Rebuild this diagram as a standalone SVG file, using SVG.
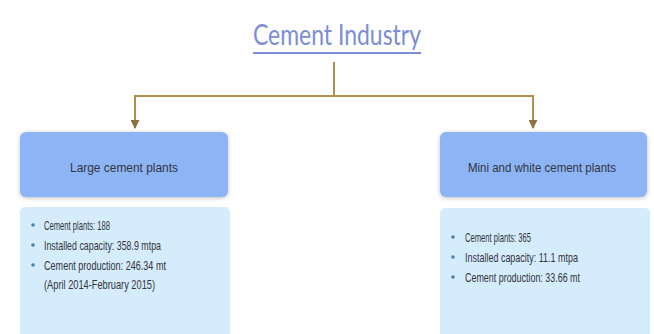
<svg xmlns="http://www.w3.org/2000/svg" width="654" height="334" viewBox="0 0 654 334">
  <defs>
    <style>
      .title { font-family: Lato, "Open Sans", "Liberation Sans", sans-serif; font-size: 29px; fill: #7a8dd5; }
      .head { fill: #8db4f5; }
      .body { fill: #d5ecfc; }
      .label { font-family: "Liberation Sans", Arial, sans-serif; font-size: 13.5px; fill: #33343c; }
      .item { font-family: "Liberation Sans", Arial, sans-serif; font-size: 13px; fill: #33343c; }
      .dot { fill: #4a7fb0; }
      .link { fill: none; stroke: #b38d4c; stroke-width: 2; }
    </style>
    <marker id="arrow" viewBox="0 0 10 10" refX="9" refY="5" markerWidth="4.5" markerHeight="4.5" orient="auto">
      <path d="M0,0 L10,5 L0,10 z" fill="#8f7140"/>
    </marker>
    <filter id="soft" x="-10%" y="-10%" width="120%" height="130%">
      <feGaussianBlur in="SourceAlpha" stdDeviation="2"/>
      <feOffset dy="1"/>
      <feComponentTransfer><feFuncA type="linear" slope="0.25"/></feComponentTransfer>
      <feMerge><feMergeNode/><feMergeNode in="SourceGraphic"/></feMerge>
    </filter>
  </defs>

  <rect width="654" height="334" fill="#ffffff"/>

  <!-- heading -->
  <g id="title">
    <text class="title" x="337" y="45" text-anchor="middle" textLength="168" lengthAdjust="spacingAndGlyphs">Cement Industry</text>
    <line x1="253" y1="53" x2="421" y2="53" stroke="#7a8dd5" stroke-width="2"/>
  </g>

  <!-- connectors -->
  <g id="connectors">
    <line class="link" x1="334" y1="62" x2="334" y2="96"/>
    <line class="link" x1="134" y1="96" x2="534" y2="96"/>
    <path class="link" d="M135,96 V128" marker-end="url(#arrow)"/>
    <path class="link" d="M533,96 V128" marker-end="url(#arrow)"/>
  </g>

  <!-- large plants -->
  <g id="large-head">
    <rect class="head" x="20" y="132" width="208" height="65" rx="6" filter="url(#soft)"/>
    <text class="label" x="124" y="172" text-anchor="middle" textLength="108" lengthAdjust="spacingAndGlyphs">Large cement plants</text>
  </g>
  <g id="large-body">
    <rect class="body" x="20" y="207" width="210" height="132" rx="5"/>
    <circle class="dot" cx="33" cy="225" r="1.8"/>
    <text class="item" x="44" y="230" textLength="66" lengthAdjust="spacingAndGlyphs">Cement plants: 188</text>
    <circle class="dot" cx="33" cy="245" r="1.8"/>
    <text class="item" x="44" y="250" textLength="117" lengthAdjust="spacingAndGlyphs">Installed capacity: 358.9 mtpa</text>
    <circle class="dot" cx="33" cy="265" r="1.8"/>
    <text class="item" x="44" y="270" textLength="122" lengthAdjust="spacingAndGlyphs">Cement production: 246.34 mt</text>
    <text class="item" x="44" y="289" textLength="111" lengthAdjust="spacingAndGlyphs">(April 2014-February 2015)</text>
  </g>

  <!-- mini and white plants -->
  <g id="mini-head">
    <rect class="head" x="440" y="132" width="207" height="65" rx="6" filter="url(#soft)"/>
    <text class="label" x="542" y="172" text-anchor="middle" textLength="148" lengthAdjust="spacingAndGlyphs">Mini and white cement plants</text>
  </g>
  <g id="mini-body">
    <rect class="body" x="440" y="208" width="210" height="131" rx="5"/>
    <circle class="dot" cx="453" cy="237" r="1.8"/>
    <text class="item" x="465" y="242" textLength="66" lengthAdjust="spacingAndGlyphs">Cement plants: 365</text>
    <circle class="dot" cx="453" cy="257" r="1.8"/>
    <text class="item" x="465" y="262" textLength="113" lengthAdjust="spacingAndGlyphs">Installed capacity: 11.1 mtpa</text>
    <circle class="dot" cx="453" cy="277" r="1.8"/>
    <text class="item" x="465" y="282" textLength="115" lengthAdjust="spacingAndGlyphs">Cement production: 33.66 mt</text>
  </g>
</svg>
